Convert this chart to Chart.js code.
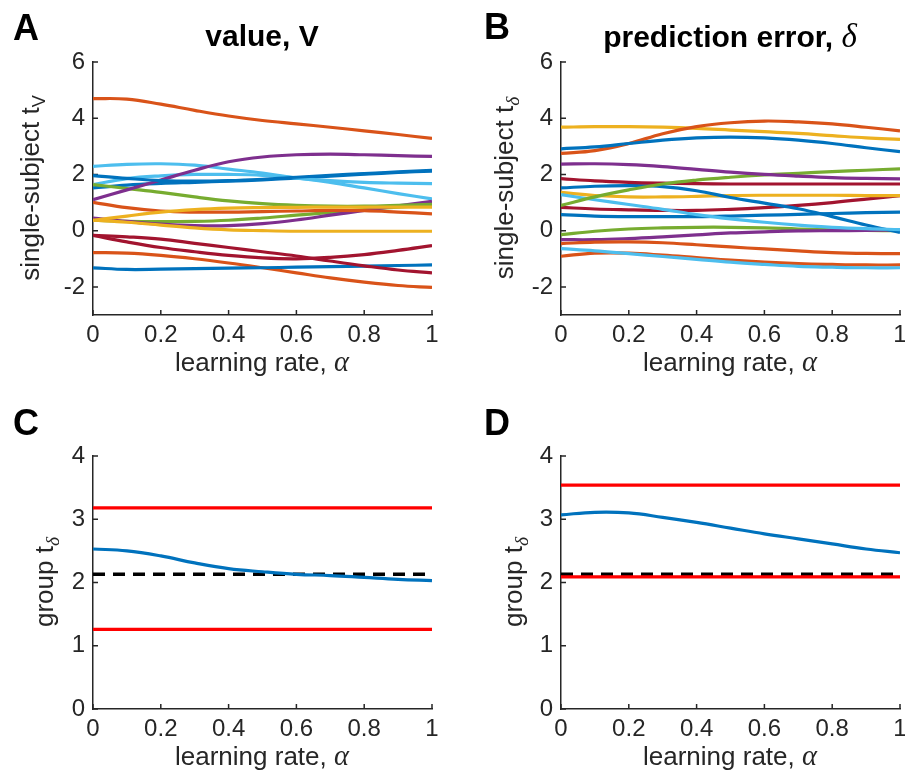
<!DOCTYPE html>
<html>
<head>
<meta charset="utf-8">
<script src="https://cdn.jsdelivr.net/npm/chart.js@4.4.1/dist/chart.umd.min.js"></script>
<style>
  body { margin: 0; background: #fff; }
  #fig { position: relative; width: 905px; height: 770px; font-family: 'Liberation Sans', Arial, sans-serif; color: #000; }
  #fig canvas { position: absolute; }
  .lbl { position: absolute; white-space: nowrap; }
  .letter { font-weight: bold; font-size: 36px; line-height: 36px; }
  .title { font-weight: bold; font-size: 30px; line-height: 30px; text-align: center; width: 400px; }
  .xt { font-size: 26px; line-height: 26px; text-align: center; width: 300px; color: #262626; }
  .yt { font-size: 26px; line-height: 30px; text-align: center; width: 280px; height: 30px; transform: rotate(-90deg); color: #262626; }
  .gr { font-family: 'Liberation Serif', 'DejaVu Serif', serif; font-style: italic; font-weight: normal; font-size: 110%; }
  sub { font-size: 70%; line-height: 0; }
  sub.gr { font-size: 75%; }
</style>
</head>
<body>
<div id="fig">
  <canvas id="chartA" width="450" height="318" style="left:0;top:42px"></canvas>
  <canvas id="chartB" width="455" height="318" style="left:450px;top:42px"></canvas>
  <canvas id="chartC" width="450" height="318" style="left:0;top:436px"></canvas>
  <canvas id="chartD" width="455" height="318" style="left:450px;top:436px"></canvas>

  <div class="lbl letter" style="left:13px;top:10px">A</div>
  <div class="lbl letter" style="left:484px;top:9px">B</div>
  <div class="lbl letter" style="left:13px;top:405px">C</div>
  <div class="lbl letter" style="left:484px;top:405px">D</div>

  <div class="lbl title" style="left:62px;top:21px">value, V</div>
  <div class="lbl title" style="left:530px;top:21px">prediction error, <span class="gr">δ</span></div>

  <div class="lbl yt" style="left:-110px;top:173px">single-subject t<sub>V</sub></div>
  <div class="lbl yt" style="left:364px;top:173px">single-subject t<sub class="gr">δ</sub></div>
  <div class="lbl yt" style="left:-96px;top:567px">group t<sub class="gr">δ</sub></div>
  <div class="lbl yt" style="left:373px;top:567px">group t<sub class="gr">δ</sub></div>

  <div class="lbl xt" style="left:112px;top:349px">learning rate, <span class="gr">α</span></div>
  <div class="lbl xt" style="left:580px;top:349px">learning rate, <span class="gr">α</span></div>
  <div class="lbl xt" style="left:112px;top:743px">learning rate, <span class="gr">α</span></div>
  <div class="lbl xt" style="left:580px;top:743px">learning rate, <span class="gr">α</span></div>
</div>

<script>
// learning rate grid and axis ticks
const alpha = [0, 0.1, 0.2, 0.3, 0.4, 0.5, 0.6, 0.7, 0.8, 0.9, 1];
const alphaTicks = [0, 0.2, 0.4, 0.6, 0.8, 1];
const subjTicks = [-2, 0, 2, 4, 6];
const groupTicks = [0, 1, 2, 3, 4];

// panel A: single-subject t for value V (16 subjects)
const vBlue1   = [1.96, 1.86, 1.78, 1.76, 1.78, 1.83, 1.90, 1.97, 2.03, 2.09, 2.15];
const vOrange1 = [4.70, 4.68, 4.50, 4.28, 4.08, 3.92, 3.80, 3.68, 3.55, 3.42, 3.28];
const vYellow1 = [0.37, 0.52, 0.66, 0.75, 0.80, 0.82, 0.83, 0.84, 0.84, 0.84, 0.84];
const vPurple1 = [1.10, 1.45, 1.80, 2.15, 2.45, 2.62, 2.70, 2.72, 2.70, 2.67, 2.64];
const vGreen1  = [1.64, 1.50, 1.36, 1.20, 1.06, 0.96, 0.90, 0.87, 0.87, 0.90, 0.94];
const vLight1  = [2.29, 2.36, 2.38, 2.33, 2.19, 2.05, 1.87, 1.78, 1.72, 1.69, 1.67];
const vRed1    = [-0.17, -0.40, -0.60, -0.75, -0.88, -0.97, -1.00, -0.95, -0.85, -0.70, -0.53];
const vBlue2   = [1.52, 1.62, 1.68, 1.72, 1.76, 1.81, 1.87, 1.94, 2.01, 2.07, 2.12];
const vOrange2 = [1.01, 0.82, 0.70, 0.66, 0.66, 0.68, 0.70, 0.72, 0.71, 0.66, 0.60];
const vYellow2 = [0.37, 0.30, 0.20, 0.10, 0.03, 0.00, -0.02, -0.02, -0.02, -0.02, -0.02];
const vPurple2 = [0.45, 0.33, 0.23, 0.18, 0.18, 0.25, 0.38, 0.55, 0.72, 0.88, 1.04];
const vGreen2  = [0.37, 0.33, 0.32, 0.33, 0.37, 0.45, 0.55, 0.65, 0.75, 0.84, 0.92];
const vLight2  = [1.64, 1.85, 1.95, 2.00, 2.00, 1.97, 1.88, 1.72, 1.52, 1.32, 1.13];
const vRed2    = [-0.17, -0.22, -0.30, -0.45, -0.60, -0.75, -0.90, -1.08, -1.25, -1.40, -1.50];
const vBlue3   = [-1.32, -1.38, -1.37, -1.35, -1.33, -1.32, -1.30, -1.28, -1.26, -1.24, -1.22];
const vOrange3 = [-0.78, -0.80, -0.88, -1.00, -1.15, -1.32, -1.50, -1.68, -1.83, -1.95, -2.02];

// panel B: single-subject t for prediction error
const dBlue1   = [2.91, 2.98, 3.10, 3.22, 3.30, 3.33, 3.30, 3.22, 3.10, 2.95, 2.81];
const dOrange1 = [2.75, 2.85, 3.10, 3.45, 3.70, 3.84, 3.90, 3.87, 3.80, 3.68, 3.55];
const dYellow1 = [3.68, 3.70, 3.70, 3.68, 3.64, 3.58, 3.52, 3.46, 3.38, 3.30, 3.25];
const dPurple1 = [2.37, 2.38, 2.35, 2.28, 2.18, 2.08, 2.00, 1.94, 1.89, 1.86, 1.84];
const dGreen1  = [0.90, 1.20, 1.45, 1.66, 1.80, 1.90, 1.98, 2.04, 2.10, 2.15, 2.20];
const dLight1  = [1.28, 1.10, 0.93, 0.76, 0.57, 0.42, 0.30, 0.20, 0.12, 0.07, 0.04];
const dRed1    = [1.85, 1.77, 1.72, 1.69, 1.67, 1.66, 1.66, 1.66, 1.66, 1.66, 1.66];
const dBlue2   = [1.52, 1.58, 1.60, 1.57, 1.42, 1.18, 0.98, 0.78, 0.50, 0.20, -0.06];
const dOrange2 = [-0.46, -0.41, -0.40, -0.43, -0.50, -0.58, -0.65, -0.72, -0.78, -0.81, -0.82];
const dYellow2 = [1.36, 1.25, 1.20, 1.20, 1.22, 1.25, 1.26, 1.26, 1.26, 1.25, 1.25];
const dPurple2 = [-0.32, -0.32, -0.28, -0.22, -0.15, -0.08, -0.04, -0.01, 0.00, 0.01, 0.02];
const dGreen2  = [-0.14, -0.02, 0.06, 0.10, 0.12, 0.12, 0.10, 0.06, 0.03, 0.01, 0.00];
const dLight2  = [-0.64, -0.72, -0.82, -0.92, -1.02, -1.12, -1.20, -1.27, -1.30, -1.32, -1.32];
const dRed2    = [0.83, 0.77, 0.74, 0.72, 0.72, 0.76, 0.82, 0.90, 1.00, 1.12, 1.25];
const dBlue3   = [0.57, 0.52, 0.50, 0.50, 0.50, 0.52, 0.55, 0.58, 0.61, 0.64, 0.66];
const dOrange3 = [-0.91, -0.80, -0.80, -0.87, -0.96, -1.05, -1.12, -1.17, -1.20, -1.22, -1.22];

// panels C, D: group t and permutation bounds
const groupValueT = [2.53, 2.50, 2.42, 2.31, 2.22, 2.17, 2.13, 2.11, 2.08, 2.05, 2.03];
const groupErrorT = [3.07, 3.11, 3.10, 3.03, 2.95, 2.86, 2.77, 2.69, 2.61, 2.53, 2.47];
const boundsValue = [1.26, 3.18];
const boundsError = [2.09, 3.54];
const criticalT = 2.13;

const FONT = "'Liberation Sans', Arial, sans-serif";
const AXIS = '#262626';
const cycle = ['#0072BD', '#D95319', '#EDB120', '#7E2F8E', '#77AC30', '#4DBEEE', '#A2142F'];

const valueSeries = [vBlue1, vOrange1, vYellow1, vPurple1, vGreen1, vLight1, vRed1,
  vBlue2, vOrange2, vYellow2, vPurple2, vGreen2, vLight2, vRed2, vBlue3, vOrange3];
const errorSeries = [dBlue1, dOrange1, dYellow1, dPurple1, dGreen1, dLight1, dRed1,
  dBlue2, dOrange2, dYellow2, dPurple2, dGreen2, dLight2, dRed2, dBlue3, dOrange3];

// tick marks drawn inward, matlab style
const inwardTicks = {
  id: 'inwardTicks',
  beforeDatasetsDraw(chart) {
    const { ctx, chartArea: a, scales: { x, y } } = chart;
    ctx.save();
    ctx.strokeStyle = AXIS;
    ctx.lineWidth = 1.5;
    ctx.beginPath();
    x.ticks.forEach(t => {
      const px = x.getPixelForValue(t.value);
      ctx.moveTo(px, a.bottom);
      ctx.lineTo(px, a.bottom - 5);
    });
    y.ticks.forEach(t => {
      const py = y.getPixelForValue(t.value);
      ctx.moveTo(a.left, py);
      ctx.lineTo(a.left + 5, py);
    });
    ctx.stroke();
    ctx.restore();
  }
};

function curve(values, color) {
  return {
    data: alpha.map((a, i) => ({ x: a, y: values[i] })),
    borderColor: color,
    borderWidth: 3.2,
    pointRadius: 0,
    tension: 0.4,
    fill: false
  };
}

function hline(level, color, dash) {
  return {
    data: [{ x: 0, y: level }, { x: 1, y: level }],
    borderColor: color,
    borderWidth: dash ? 3.6 : 3.2,
    borderDash: dash || [],
    pointRadius: 0,
    fill: false
  };
}

function makePanel(id, datasets, yMin, yMax, yTicks, yWidth, padRight) {
  return new Chart(document.getElementById(id), {
    type: 'line',
    data: { datasets: datasets },
    options: {
      responsive: false,
      animation: false,
      layout: { padding: { top: 20, right: padRight, bottom: 0, left: 0 } },
      plugins: {
        legend: { display: false },
        tooltip: { enabled: false }
      },
      scales: {
        x: {
          type: 'linear',
          min: 0,
          max: 1,
          grid: { display: false, drawTicks: false },
          border: { color: AXIS, width: 1.5 },
          ticks: {
            font: { family: FONT, size: 24 },
            color: AXIS,
            padding: 6,
            maxRotation: 0,
            callback: (v) => String(v)
          },
          afterBuildTicks: (s) => { s.ticks = alphaTicks.map(v => ({ value: v })); },
          afterFit: (s) => { s.height = 45; s.paddingLeft = 0; s.paddingRight = 0; }
        },
        y: {
          type: 'linear',
          min: yMin,
          max: yMax,
          grid: { display: false, drawTicks: false },
          border: { color: AXIS, width: 1.5 },
          ticks: {
            font: { family: FONT, size: 24 },
            color: AXIS,
            padding: 8,
            callback: (v) => String(v)
          },
          afterBuildTicks: (s) => { s.ticks = yTicks.map(v => ({ value: v })); },
          afterFit: (s) => { s.width = yWidth; s.paddingTop = 0; s.paddingBottom = 0; }
        }
      }
    },
    plugins: [inwardTicks]
  });
}

makePanel('chartA', valueSeries.map((s, i) => curve(s, cycle[i % 7])), -3, 6, subjTicks, 93, 18);
makePanel('chartB', errorSeries.map((s, i) => curve(s, cycle[i % 7])), -3, 6, subjTicks, 111, 5);

makePanel('chartC', [
  curve(groupValueT, '#0072BD'),
  hline(boundsValue[1], '#FF0000'),
  hline(boundsValue[0], '#FF0000'),
  hline(criticalT, '#000000', [12, 8])
], 0, 4, groupTicks, 93, 18);

makePanel('chartD', [
  curve(groupErrorT, '#0072BD'),
  hline(boundsError[1], '#FF0000'),
  hline(boundsError[0], '#FF0000'),
  hline(criticalT, '#000000', [12, 8])
], 0, 4, groupTicks, 111, 5);
</script>
</body>
</html>
